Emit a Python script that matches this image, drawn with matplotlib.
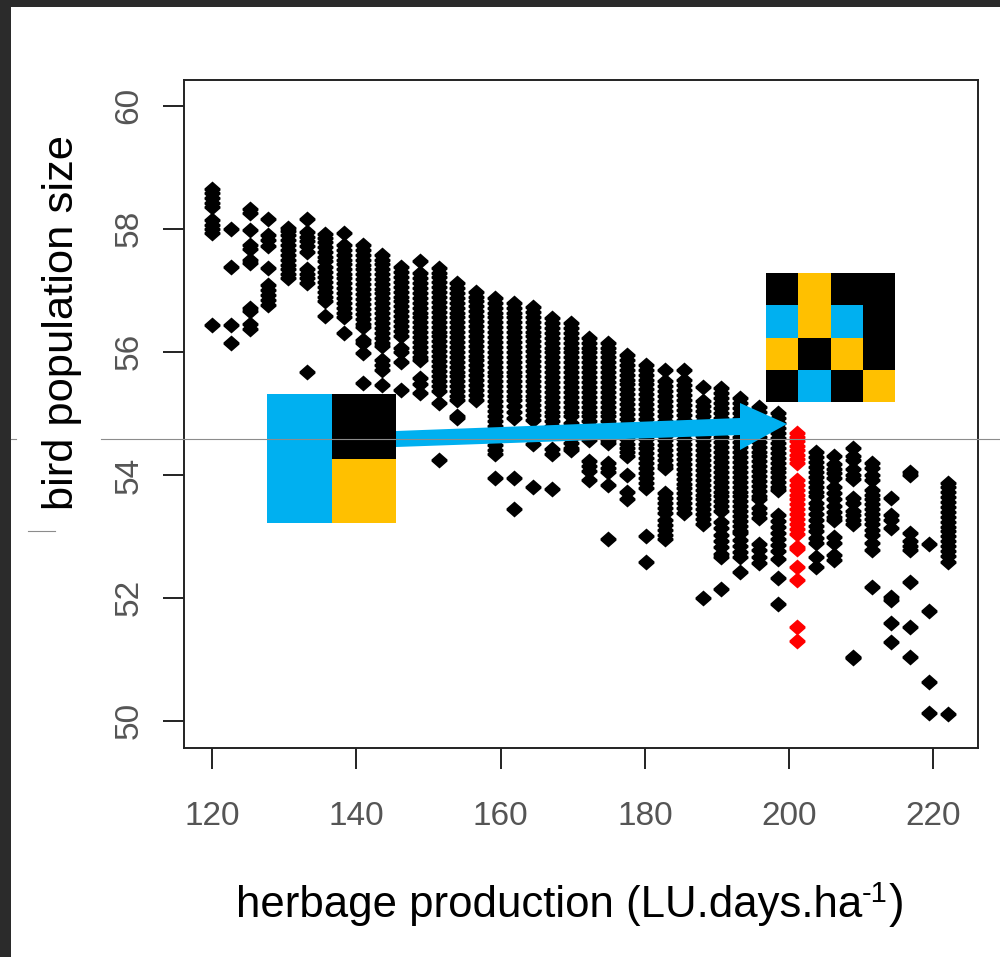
import matplotlib
matplotlib.use("Agg")
import matplotlib.pyplot as plt
from matplotlib.patches import Rectangle, Polygon
from matplotlib.path import Path

plt.rcParams['font.family'] = ['Liberation Sans', 'DejaVu Sans']

BLUE = "#00B0F0"
YELLOW = "#FFC000"

# herbage production, one entry per column of points
production = [120.0, 122.6, 125.2, 127.8, 130.5, 133.1, 135.7, 138.3, 140.9, 143.5,
              146.2, 148.8, 151.4, 154.0, 156.6, 159.2, 161.8, 164.5, 167.1, 169.7,
              172.3, 174.9, 177.5, 180.2, 182.8, 185.4, 188.0, 190.6, 193.2, 195.8,
              198.5, 201.1, 203.7, 206.3, 208.9, 211.5, 214.2, 216.8, 219.4, 222.0]

# bird population, column by column
population = [
    [58.65, 58.58, 58.5, 58.42, 58.36, 58.15, 58.07, 58.0, 57.93, 56.44],
    [58.0, 57.38, 56.44, 56.15],
    [58.32, 58.26, 57.98, 57.74, 57.68, 57.5, 57.45, 56.72, 56.66, 56.46, 56.38],
    [58.16, 57.9, 57.82, 57.72, 57.37, 57.08, 57.0, 56.92, 56.84, 56.76],
    [58.02, 57.96, 57.9, 57.82, 57.74, 57.66, 57.58, 57.5, 57.42, 57.34, 57.26, 57.2],
    [58.16, 57.95, 57.87, 57.8, 57.72, 57.62, 57.34, 57.26, 57.2, 57.12, 55.67],
    [57.92, 57.85, 57.78, 57.7, 57.62, 57.55, 57.47, 57.38, 57.3, 57.22, 57.13, 57.05,
     56.97, 56.9, 56.82, 56.58],
    [57.93, 57.74, 57.66, 57.58, 57.5, 57.43, 57.35, 57.27, 57.2, 57.12, 57.04, 56.96,
     56.88, 56.8, 56.72, 56.64, 56.56, 56.3],
    [57.74, 57.66, 57.58, 57.5, 57.42, 57.34, 57.26, 57.18, 57.1, 57.02, 56.94, 56.86,
     56.78, 56.7, 56.62, 56.54, 56.46, 56.4, 56.2, 56.14, 55.98, 55.5],
    [57.58, 57.5, 57.43, 57.35, 57.27, 57.19, 57.11, 57.03, 56.95, 56.87, 56.79, 56.71,
     56.63, 56.55, 56.47, 56.39, 56.31, 56.23, 56.15, 56.1, 55.87, 55.78, 55.7, 55.46],
    [57.38, 57.3, 57.22, 57.14, 57.06, 56.98, 56.9, 56.82, 56.74, 56.66, 56.58, 56.5,
     56.42, 56.34, 56.26, 56.06, 56.0, 55.84, 55.38],
    [57.48, 57.28, 57.2, 57.12, 57.04, 56.96, 56.88, 56.8, 56.72, 56.64, 56.56, 56.48,
     56.4, 56.32, 56.24, 56.16, 56.08, 56.0, 55.92, 55.87, 55.58, 55.48, 55.33],
    [57.37, 57.29, 57.21, 57.13, 57.05, 56.97, 56.89, 56.81, 56.73, 56.65, 56.57, 56.49,
     56.41, 56.33, 56.25, 56.17, 56.09, 56.01, 55.93, 55.85, 55.77, 55.69, 55.61, 55.53,
     55.45, 55.37, 55.17, 54.24],
    [57.12, 57.04, 56.96, 56.88, 56.8, 56.72, 56.64, 56.56, 56.48, 56.4, 56.32, 56.24,
     56.16, 56.08, 56.0, 55.92, 55.84, 55.76, 55.68, 55.6, 55.52, 55.44, 55.36, 55.28,
     55.22, 54.96, 54.92],
    [56.98, 56.9, 56.82, 56.74, 56.66, 56.58, 56.5, 56.42, 56.34, 56.26, 56.18, 56.1,
     56.02, 55.94, 55.86, 55.78, 55.7, 55.62, 55.54, 55.46, 55.38, 55.3, 55.22],
    [56.88, 56.8, 56.72, 56.64, 56.56, 56.48, 56.4, 56.32, 56.24, 56.16, 56.08, 56.0,
     55.92, 55.84, 55.76, 55.68, 55.6, 55.52, 55.44, 55.36, 55.28, 55.2, 55.12, 55.04,
     54.96, 54.88, 54.8, 54.72, 54.64, 54.56, 54.48, 54.4, 54.34, 53.95],
    [56.8, 56.72, 56.64, 56.56, 56.48, 56.4, 56.32, 56.24, 56.16, 56.08, 56.0, 55.92,
     55.84, 55.76, 55.68, 55.6, 55.52, 55.44, 55.36, 55.28, 55.22, 55.12, 55.02, 54.92,
     53.95, 53.45],
    [56.73, 56.65, 56.57, 56.49, 56.41, 56.33, 56.25, 56.17, 56.09, 56.01, 55.93, 55.85,
     55.77, 55.69, 55.61, 55.53, 55.45, 55.37, 55.29, 55.21, 55.13, 55.05, 54.97, 54.9,
     54.6, 54.5, 53.8],
    [56.55, 56.47, 56.39, 56.31, 56.23, 56.15, 56.07, 55.99, 55.91, 55.83, 55.75, 55.67,
     55.59, 55.51, 55.43, 55.35, 55.27, 55.19, 55.11, 55.03, 54.95, 54.87, 54.79, 54.42,
     54.34, 53.77],
    [56.47, 56.39, 56.31, 56.23, 56.15, 56.07, 55.99, 55.91, 55.83, 55.75, 55.67, 55.59,
     55.51, 55.43, 55.35, 55.27, 55.19, 55.11, 55.03, 54.96, 54.84, 54.76, 54.68, 54.6,
     54.52, 54.44, 54.4],
    [56.23, 56.15, 56.07, 55.99, 55.91, 55.83, 55.75, 55.67, 55.59, 55.51, 55.43, 55.35,
     55.27, 55.19, 55.11, 55.03, 54.95, 54.87, 54.79, 54.71, 54.63, 54.57, 54.22, 54.14,
     54.06, 53.92],
    [56.15, 56.07, 55.99, 55.91, 55.83, 55.75, 55.67, 55.59, 55.51, 55.43, 55.35, 55.27,
     55.19, 55.11, 55.03, 54.95, 54.87, 54.79, 54.71, 54.63, 54.57, 54.52, 54.2, 54.12,
     54.05, 53.84, 52.95],
    [55.95, 55.87, 55.79, 55.71, 55.63, 55.55, 55.47, 55.39, 55.31, 55.23, 55.15, 55.07,
     54.99, 54.91, 54.83, 54.75, 54.67, 54.59, 54.51, 54.43, 54.37, 54.3, 54.0, 53.72,
     53.6],
    [55.79, 55.71, 55.63, 55.55, 55.47, 55.39, 55.31, 55.23, 55.15, 55.07, 54.99, 54.91,
     54.83, 54.75, 54.67, 54.59, 54.51, 54.43, 54.35, 54.27, 54.19, 54.11, 54.03, 53.95,
     53.87, 53.79, 53.0, 52.58],
    [55.7, 55.52, 55.44, 55.36, 55.28, 55.2, 55.12, 55.04, 54.96, 54.88, 54.8, 54.72,
     54.64, 54.56, 54.48, 54.4, 54.32, 54.24, 54.16, 54.11, 53.7, 53.62, 53.54, 53.46,
     53.38, 53.27, 53.19, 53.11, 53.03, 52.95],
    [55.7, 55.54, 55.46, 55.38, 55.3, 55.22, 55.14, 55.06, 54.98, 54.9, 54.82, 54.74,
     54.66, 54.58, 54.5, 54.42, 54.34, 54.26, 54.18, 54.1, 54.02, 53.94, 53.86, 53.78,
     53.7, 53.62, 53.54, 53.46, 53.38],
    [55.43, 55.2, 55.12, 55.04, 54.96, 54.88, 54.8, 54.72, 54.64, 54.56, 54.48, 54.4,
     54.32, 54.24, 54.16, 54.08, 54.0, 53.92, 53.84, 53.76, 53.68, 53.6, 53.52, 53.44,
     53.36, 53.28, 53.2, 52.0],
    [55.41, 55.33, 55.25, 55.17, 55.09, 55.01, 54.93, 54.85, 54.77, 54.69, 54.61, 54.53,
     54.45, 54.37, 54.29, 54.21, 54.13, 54.05, 53.97, 53.89, 53.81, 53.73, 53.65, 53.57,
     53.49, 53.41, 53.23, 53.13, 53.03, 52.93, 52.82, 52.72, 52.67, 52.15],
    [55.25, 55.17, 55.09, 55.01, 54.93, 54.85, 54.77, 54.69, 54.61, 54.53, 54.45, 54.37,
     54.29, 54.21, 54.13, 54.05, 53.97, 53.89, 53.81, 53.73, 53.65, 53.57, 53.49, 53.41,
     53.33, 53.25, 53.17, 53.09, 53.05, 52.94, 52.85, 52.74, 52.67, 52.42],
    [55.1, 55.02, 54.94, 54.86, 54.78, 54.7, 54.62, 54.54, 54.46, 54.38, 54.3, 54.22,
     54.14, 54.06, 53.98, 53.9, 53.82, 53.74, 53.66, 53.6, 53.46, 53.38, 53.3, 52.88,
     52.78, 52.66, 52.56],
    [55.0, 54.92, 54.84, 54.76, 54.68, 54.6, 54.52, 54.44, 54.36, 54.28, 54.2, 54.12,
     54.04, 53.96, 53.88, 53.8, 53.76, 53.35, 53.25, 53.16, 53.06, 52.96, 52.86, 52.76,
     52.64, 52.33, 51.9],
    [],
    [54.37, 54.29, 54.21, 54.13, 54.05, 53.97, 53.89, 53.81, 53.73, 53.65, 53.55, 53.46,
     53.36, 53.27, 53.17, 53.08, 52.98, 52.9, 52.66, 52.5],
    [54.3, 54.18, 54.1, 54.03, 53.95, 53.8, 53.7, 53.6, 53.5, 53.4, 53.32, 53.27, 52.99,
     52.9, 52.7, 52.62],
    [54.44, 54.3, 54.24, 54.1, 54.0, 53.93, 53.63, 53.55, 53.42, 53.35, 53.27, 53.2,
     51.04, 51.02],
    [54.2, 54.12, 54.0, 53.92, 53.76, 53.68, 53.6, 53.52, 53.44, 53.36, 53.28, 53.2, 53.1,
     53.02, 52.9, 52.78, 52.18],
    [53.63, 53.35, 53.27, 53.14, 52.02, 51.97, 51.6, 51.28],
    [54.05, 54.0, 53.05, 52.92, 52.84, 52.78, 52.26, 51.53, 51.04],
    [52.88, 51.79, 50.63, 50.13],
    [53.87, 53.8, 53.72, 53.64, 53.56, 53.48, 53.4, 53.32, 53.24, 53.16, 53.08, 53.0,
     52.92, 52.84, 52.76, 52.68, 52.58, 50.11],
]

# the highlighted column, drawn in red
highlight_x = 201.1
highlight_pop = [54.68, 54.62, 54.55, 54.47, 54.4, 54.33, 54.26, 54.2, 53.92, 53.84,
                 53.76, 53.68, 53.6, 53.52, 53.44, 53.36, 53.28, 53.2, 53.12, 53.04,
                 52.83, 52.8, 52.5, 52.29, 51.53, 51.3]

xticks = [120, 140, 160, 180, 200, 220]
yticks = [50, 52, 54, 56, 58, 60]

# right hand legend square, row by row
grid_big = [["k", "y", "k", "k"],
            ["b", "y", "b", "k"],
            ["y", "k", "y", "k"],
            ["k", "b", "k", "y"]]
cell_colors = {"k": "black", "y": YELLOW, "b": BLUE}

# diamond with short flat sides, stacks into solid columns like the R pch=18 blobs
blob = Path([(0, 1), (1, 0.12), (1, -0.12), (0, -1), (-1, -0.12), (-1, 0.12), (0, 1)], closed=True)

fig = plt.figure(figsize=(10, 9.57), dpi=100)
# frame sits at px 184..978 by 80..748
ax = fig.add_axes([184 / 1000, 1 - 748 / 957, 794 / 1000, 668 / 957])

for x, ys in zip(production, population):
    ax.plot([x] * len(ys), ys, ls="none", marker=blob, ms=11.5, mew=0, color="black")
ax.plot([highlight_x] * len(highlight_pop), highlight_pop, ls="none", marker=blob,
        ms=11.5, mew=0, color="#ff0000")

ax.set_xlim(116.1, 226.2)
ax.set_ylim(49.56, 60.42)
ax.set_xticks(xticks)
ax.set_yticks(yticks)
ax.tick_params(axis="both", length=15, width=1.4, color="#222222",
               labelsize=24, labelcolor="#555555")
ax.tick_params(axis="x", pad=23.5)
ax.tick_params(axis="y", pad=13.5)
for lab in ax.get_yticklabels():
    lab.set_rotation(90)
    lab.set_va("center")
for s in ax.spines.values():
    s.set_linewidth(1.4)
    s.set_color("#222222")

# overlay in pixel coordinates for the slide furniture
over = fig.add_axes([0, 0, 1, 1], facecolor="none")
over.set_xlim(0, 1000)
over.set_ylim(957, 0)
over.axis("off")

over.add_patch(Rectangle((0, 0), 1000, 7, color="#2b2b2b", lw=0))
over.add_patch(Rectangle((0, 0), 11, 957, color="#2b2b2b", lw=0))

over.plot([11, 16], [439, 439], color="#8c8c8c", lw=0.8)
over.plot([101, 1000], [439, 439], color="#8c8c8c", lw=0.8)
over.plot([28, 55], [531, 531], color="#8c8c8c", lw=0.8)

# left legend square
over.add_patch(Rectangle((267, 394), 65, 129, color=BLUE, lw=0))
over.add_patch(Rectangle((332, 394), 64, 65, color="black", lw=0))
over.add_patch(Rectangle((332, 459), 64, 64, color=YELLOW, lw=0))

# right legend square
for r, row in enumerate(grid_big):
    for c, key in enumerate(row):
        over.add_patch(Rectangle((766 + c * 32.25, 273 + r * 32.25), 32.25, 32.25,
                                 color=cell_colors[key], lw=0))

# arrow between the squares
over.add_patch(Polygon([(396, 431), (740, 418), (740, 403), (787, 424), (740, 450),
                        (740, 435), (396, 447)], closed=True, color=BLUE, lw=0))

over.text(62, 322, "bird population size", rotation=90, ha="center", va="center",
          fontsize=31.3, color="black")
over.text(862, 917, "herbage production (LU.days.ha", ha="right", va="baseline",
          fontsize=31.5, color="black")
over.text(862, 902, "-1", ha="left", va="baseline", fontsize=21, color="black")
over.text(904, 917, ")", ha="right", va="baseline", fontsize=34, color="black")

fig.savefig("out.png", dpi=100, facecolor="white")
